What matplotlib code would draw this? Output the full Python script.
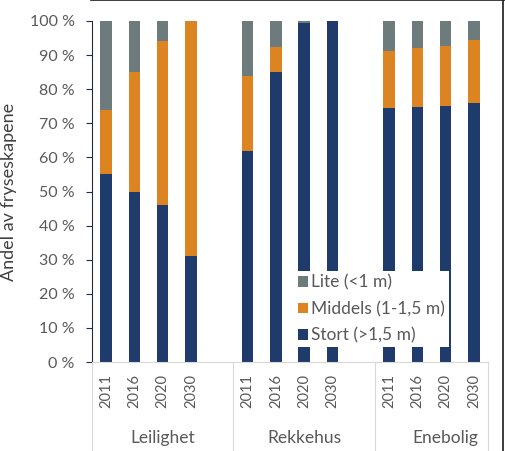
import matplotlib
matplotlib.use("Agg")
import matplotlib.pyplot as plt
import matplotlib.transforms as mtransforms
from matplotlib.lines import Line2D

plt.rcParams['font.family'] = ['Lato', 'DejaVu Sans']

# data (percent)
groups = ['Leilighet', 'Rekkehus', 'Enebolig']
years = ['2011', '2016', '2020', '2030']
stort = [55, 50, 46, 31,
         62, 85.1, 99.5, 100,
         74.5, 74.7, 75.1, 76]
middels = [19, 35, 48, 69,
           22, 7.3, 0, 0,
           16.7, 17.4, 17.7, 18.4]
lite = [26, 15, 6, 0,
        16, 7.6, 0.5, 0,
        8.8, 7.9, 7.2, 5.6]
series_names = ['Stort (>1,5 m)', 'Middels (1-1,5 m)', 'Lite (<1 m)']
colors = ['#1F3B6C', '#DB8421', '#6E7B7C']

# one blank slot between groups, like the excel sheet
xpos = []
xlabels = []
for g in range(len(groups)):
    for i in range(len(years)):
        xpos.append(g * 5 + i)
        xlabels.append(years[i])

fig = plt.figure(figsize=(5.05, 4.51), dpi=100)
ax = fig.add_axes([92/505, 1 - 362/451, (488 - 92)/505, (362 - 21)/451])

bottom1 = stort
bottom2 = [a + b for a, b in zip(stort, middels)]
bar_s = ax.bar(xpos, stort, 0.4, color=colors[0], label=series_names[0])
bar_m = ax.bar(xpos, middels, 0.4, bottom=bottom1, color=colors[1], label=series_names[1])
bar_l = ax.bar(xpos, lite, 0.4, bottom=bottom2, color=colors[2], label=series_names[2])

ax.set_xlim(-0.5, 13.5)
ax.set_ylim(0, 100)
ax.set_yticks(range(0, 101, 10))
ax.set_yticklabels([f'{v} %' for v in range(0, 101, 10)])
ax.set_xticks(xpos)
ax.set_xticklabels(xlabels, rotation=90)

for s in ['top', 'right']:
    ax.spines[s].set_visible(False)
ax.spines['left'].set_color('#1F2D4D')
ax.spines['bottom'].set_color('#D9D9D9')
ax.tick_params(axis='y', colors='#1F2D4D', labelcolor='#595959', labelsize=11.5,
               length=4.5, width=0.8, pad=8)
ax.tick_params(axis='x', length=0, labelcolor='#595959', labelsize=10.5, pad=9)

ax.set_ylabel('Andel av fryseskapene', fontsize=13, color='#404040')
ax.yaxis.set_label_coords(-0.19, 0.5)

# multi-level category axis
trans = mtransforms.blended_transform_factory(ax.transData, ax.transAxes)
ybot = -(1 - 362/451) / ((362 - 21)/451) - 0.01
for xs in [-0.5, 4.5, 9.5, 13.5]:
    ax.plot([xs, xs], [0, ybot], color='#D9D9D9', lw=0.8, transform=trans, clip_on=False)
group_x = [2, 7, 12]
for gx, name in zip(group_x, groups):
    ax.text(gx, -0.222, name, transform=trans, ha='center', va='center',
            fontsize=12.5, color='#595959')

handles = [bar_l, bar_m, bar_s]
leg = ax.legend(handles, [series_names[2], series_names[1], series_names[0]],
                loc='lower left', bbox_to_anchor=(0.512, 0.044), fontsize=12.5,
                frameon=True, framealpha=1, facecolor='white', edgecolor='none',
                fancybox=False, handlelength=0.55, handleheight=0.55,
                handletextpad=0.2, labelspacing=0.6, borderpad=0.2,
                borderaxespad=0)
for t in leg.get_texts():
    t.set_color('#595959')

# chart border visible at top and right
fig.add_artist(Line2D([0.18, 1], [0.999, 0.999], color='#1a1a1a', lw=1.2))
fig.add_artist(Line2D([0.997, 0.997], [0, 1], color='#1a1a1a', lw=1.2))

fig.savefig('out.png', dpi=100)
